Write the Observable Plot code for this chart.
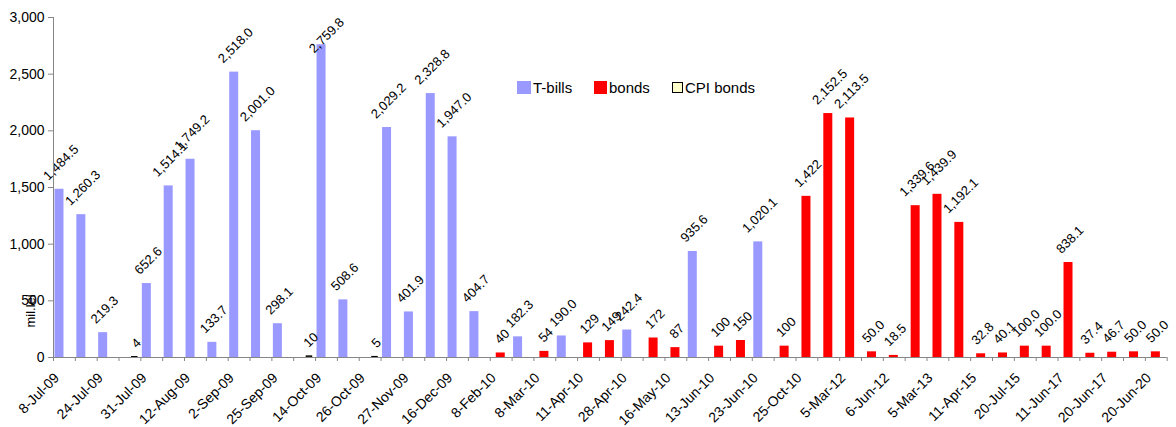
<!DOCTYPE html>
<html>
<head>
<meta charset="utf-8">
<script src="https://cdn.jsdelivr.net/npm/d3@7"></script>
<script src="https://cdn.jsdelivr.net/npm/@observablehq/plot@0.6"></script>
<style>
  html, body { margin: 0; padding: 0; background: #fff; }
  #wrap { position: relative; width: 1176px; height: 427px; font-family: "Liberation Sans", Arial, sans-serif; }
  #legend { position: absolute; left: 0; top: 0; font-size: 15px; color: #000; }
  .item { position: absolute; top: 79px; white-space: nowrap; display: flex; align-items: center; height: 16px; }
  .sw { display: inline-block; width: 14px; height: 13px; margin-right: 2px; box-sizing: border-box; }
</style>
</head>
<body>
<div id="wrap"></div>
<script>
// ---- data ----
const tickLabels = ["8-Jul-09","24-Jul-09","31-Jul-09","12-Aug-09","2-Sep-09","25-Sep-09","14-Oct-09","26-Oct-09","27-Nov-09","16-Dec-09","8-Feb-10","8-Mar-10","11-Apr-10","28-Apr-10","16-May-10","13-Jun-10","23-Jun-10","25-Oct-10","5-Mar-12","6-Jun-12","5-Mar-13","11-Apr-15","20-Jul-15","11-Jun-17","20-Jun-17","20-Jun-20"];
const N = 51; // auctions (every other one is labelled on the axis)
const tbills = [1484.5,1260.3,219.3,null,652.6,1514.1,1749.2,133.7,2518.0,2001.0,298.1,null,2759.8,508.6,null,2029.2,401.9,2328.8,1947.0,404.7,null,182.3,null,190.0,null,null,242.4,null,null,935.6,null,null,1020.1,null,null,null,null,null,null,null,null,null,null,null,null,null,null,null,null,null,null];
const bonds = [null,null,null,null,null,null,null,null,null,null,null,null,null,null,null,null,null,null,null,null,40,null,54,null,129,149,null,172,87,null,100,150,null,100,1422,2152.5,2113.5,50.0,18.5,1339.6,1439.9,1192.1,32.8,40.1,100.0,100.0,838.1,37.4,46.7,50.0,50.0];
const cpiBonds = [null,null,null,4,null,null,null,null,null,null,null,10,null,null,5,null,null,null,null,null,null,null,null,null,null,null,null,null,null,null,null,null,null,null,null,null,null,null,null,null,null,null,null,null,null,null,null,null,null,null,null];
const yTicks = [0,500,1000,1500,2000,2500,3000];
const seriesNames = ["T-bills","bonds","CPI bonds"];
const bondsWholeUntil = 34; // bond labels shown without decimals up to this auction

// ---- layout / style ----
const W = 1176, H = 427;
const mTop = 17, mRight = 9.3, mBottom = 70, mLeft = 53;
const bw = (W - mLeft - mRight) / N;
const FS = 13;
const gray = "#868686";
const style = {
  "T-bills":   {fill: "#9999ff", stroke: null,  insetLeft: 1.5, width: 9, fmt: d3.format(",.1f")},
  "bonds":     {fill: "#ff0000", stroke: null,  insetLeft: 6,   width: 9, fmt: null},
  "CPI bonds": {fill: "#ffffcc", stroke: "#000", insetLeft: 13,  width: 5.5, fmt: d3.format(",")}
};
const labelCeiling = 2600; // labels of taller bars are kept inside the chart area

const rows = [];
[tbills, bonds, cpiBonds].forEach((arr, s) => {
  arr.forEach((v, i) => {
    if (v == null) return;
    const name = seriesNames[s];
    let label;
    if (name === "bonds") label = i <= bondsWholeUntil ? d3.format(",.0f")(v) : d3.format(",.1f")(v);
    else label = style[name].fmt(v);
    rows.push({i, series: name, value: v, label});
  });
});

function textW(str) {
  let w = 0;
  for (const c of str) w += (c === "," || c === ".") ? 0.278 : 0.556;
  return w * FS;
}

const marks = [];
// bars
for (const name of seriesNames) {
  const st = style[name];
  marks.push(Plot.barY(rows.filter(d => d.series === name), {
    x: "i", y: "value", fill: st.fill, stroke: st.stroke, strokeWidth: 1,
    insetLeft: st.insetLeft, insetRight: bw - st.insetLeft - st.width
  }));
}
// value labels, grouped by series and label length
const groups = d3.groups(rows, d => d.series, d => d.label.length, d => d.value > labelCeiling);
for (const [name, byLen] of groups) {
  const st = style[name];
  const dx = st.insetLeft + st.width / 2 - bw / 2 + 1.5;
  for (const [len, byPin] of byLen) {
    for (const [pinned, data] of byPin) {
      const w = textW(data[0].label);
      const common = {x: "i", text: "label", rotate: -45, textAnchor: "middle", fontSize: FS, fill: "#000", dx};
      if (pinned) {
        marks.push(Plot.text(data, {...common, frameAnchor: "top", dy: 14.5}));
      } else {
        marks.push(Plot.text(data, {...common, y: "value", dy: -(8 + (w + 0.72 * FS) * 0.354)}));
      }
    }
  }
}
// axes
marks.push(Plot.ruleY([0], {stroke: gray}));
marks.push(Plot.frame({anchor: "left", stroke: gray}));
marks.push(Plot.axisY({ticks: yTicks, tickFormat: d3.format(","), tickSize: 5, tickPadding: 4, fontSize: 14, stroke: gray, fill: "#000", label: null}));
marks.push(Plot.axisX({ticks: d3.range(N), tickFormat: () => "", tickSize: 4, dx: -bw / 2, stroke: gray, label: null}));
marks.push(Plot.axisX({ticks: [N - 1], tickFormat: () => "", tickSize: 4, dx: bw / 2, stroke: gray, label: null}));
marks.push(Plot.axisX({ticks: d3.range(0, N, 2), tickFormat: i => tickLabels[i / 2], tickSize: 0, tickPadding: 18, tickRotate: -45, dx: -7.5, fontSize: 14, fill: "#000", label: null}));
marks.push(Plot.text(["mil.lei"], {frameAnchor: "bottom-left", text: d => d, rotate: -90, dx: -19, dy: -30, fontSize: 13, fill: "#000"}));

const chart = Plot.plot({
  width: W, height: H,
  marginTop: mTop, marginRight: mRight, marginBottom: mBottom, marginLeft: mLeft,
  style: {fontFamily: "'Liberation Sans', Arial, sans-serif", background: "#fff", overflow: "visible"},
  x: {type: "band", domain: d3.range(N), paddingInner: 0, paddingOuter: 0, round: false, axis: null},
  y: {domain: [0, 3000], axis: null},
  marks
});
const wrap = document.getElementById("wrap");
wrap.appendChild(chart);

// legend (inside the plot area, as in the original)
const legend = document.createElement("div");
legend.id = "legend";
const legendPos = {"T-bills": 517, "bonds": 594, "CPI bonds": 672};
for (const name of seriesNames) {
  const it = document.createElement("div");
  it.className = "item";
  it.style.left = legendPos[name] + "px";
  const sw = document.createElement("span");
  sw.className = "sw";
  sw.style.background = style[name].fill;
  if (name === "CPI bonds") { sw.style.border = "1.5px solid #000"; sw.style.width = "11px"; sw.style.height = "11px"; }
  if (name === "bonds") { sw.style.width = "13px"; }
  it.appendChild(sw);
  it.appendChild(document.createTextNode(name));
  legend.appendChild(it);
}
wrap.appendChild(legend);
</script>
</body>
</html>
